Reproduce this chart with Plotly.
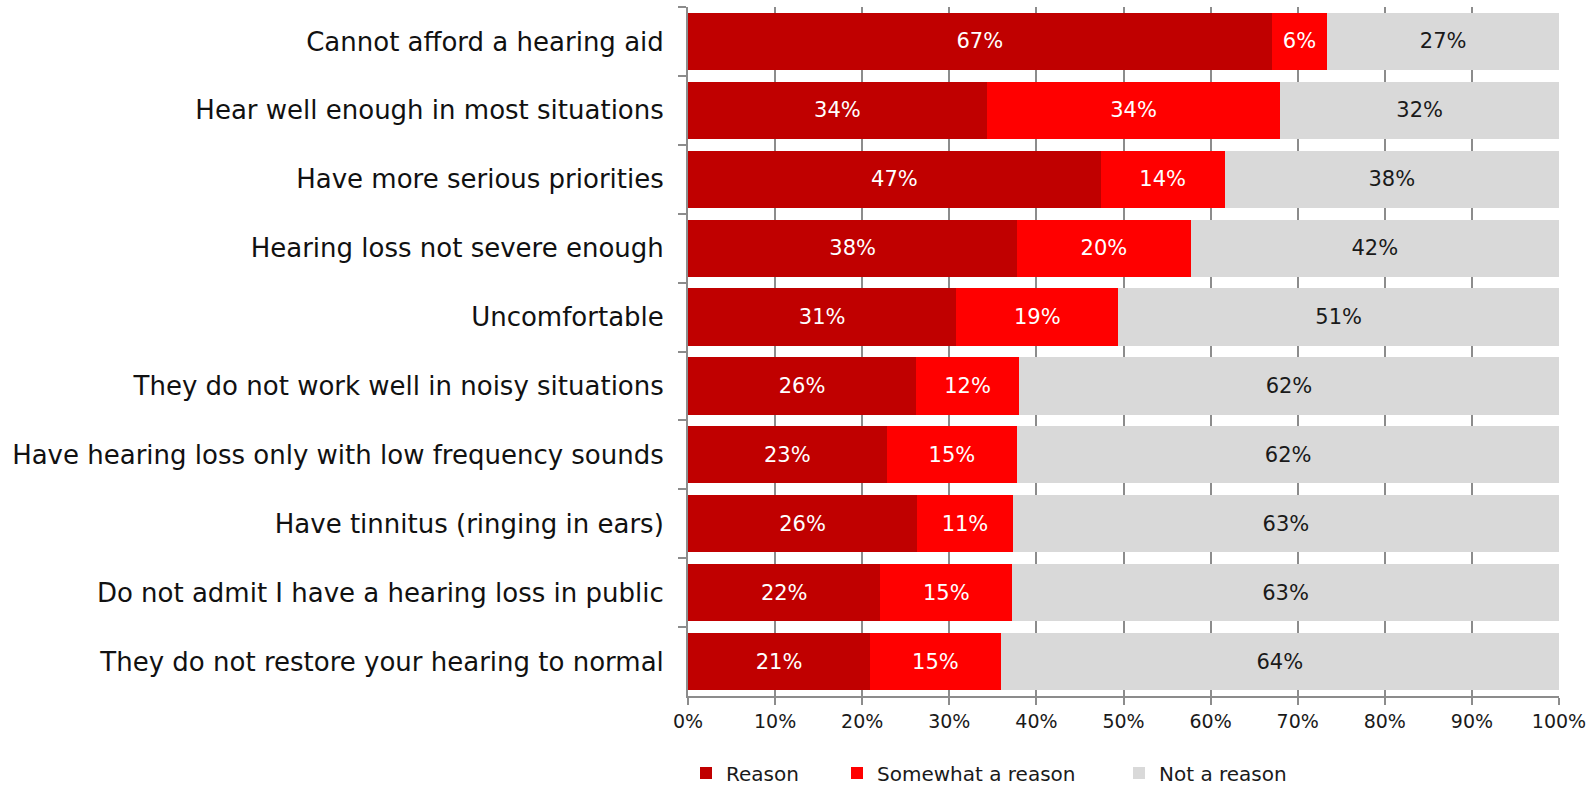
import plotly.graph_objects as go

# Survey: reasons for not using a hearing aid (share of respondents, %)
categories = [
    "Cannot afford a hearing aid",
    "Hear well enough in most situations",
    "Have more serious priorities",
    "Hearing loss not severe enough",
    "Uncomfortable",
    "They do not work well in noisy situations",
    "Have hearing loss only with low frequency sounds",
    "Have tinnitus (ringing in ears)",
    "Do not admit I have a hearing loss in public",
    "They do not restore your hearing to normal",
]
reason = [67.0, 34.3, 47.4, 37.8, 30.8, 26.2, 22.8, 26.3, 22.1, 20.9]
somewhat = [6.4, 33.7, 14.2, 19.9, 18.6, 11.8, 15.0, 11.0, 15.1, 15.0]
not_reason = [26.6, 32.0, 38.4, 42.3, 50.6, 62.0, 62.2, 62.7, 62.8, 64.1]

series_names = ["Reason", "Somewhat a reason", "Not a reason"]
x_ticks = [0, 10, 20, 30, 40, 50, 60, 70, 80, 90, 100]
x_tick_labels = ["0%", "10%", "20%", "30%", "40%", "50%", "60%", "70%", "80%", "90%", "100%"]

FONT = "DejaVu Sans"
colors = ["#C00000", "#FF0000", "#D9D9D9"]
text_colors = ["#FFFFFF", "#FFFFFF", "#1A1A1A"]
legend_ids = ["legend", "legend2", "legend3"]

fig = go.Figure()
for vals, name, col, tcol, lg in zip(
    [reason, somewhat, not_reason], series_names, colors, text_colors, legend_ids
):
    fig.add_trace(
        go.Bar(
            y=categories,
            x=vals,
            name=name,
            orientation="h",
            marker=dict(color=col, line=dict(width=0)),
            texttemplate="%{x:.0f}%",
            textposition="inside",
            insidetextanchor="middle",
            textangle=0,
            insidetextfont=dict(family=FONT, size=21, color=tcol),
            legend=lg,
        )
    )

W, H = 1592, 787
ml, mr, mt, mb = 688, 33, 7, 91
plot_w = W - ml - mr
plot_h = H - mt - mb

def px_to_paper_x(px):
    return (px - ml) / plot_w

# one legend per series so each entry can sit at its own position
legend_common = dict(
    orientation="h",
    yanchor="middle",
    y=-(773 - (H - mb)) / plot_h,
    xanchor="left",
    font=dict(family=FONT, size=20, color="#1A1A1A"),
    bgcolor="rgba(0,0,0,0)",
    borderwidth=0,
    itemwidth=30,
    tracegroupgap=0,
)
legend_x = [686, 837, 1119]

fig.update_layout(
    width=W,
    height=H,
    margin=dict(l=ml, r=mr, t=mt, b=mb, autoexpand=False),
    barmode="stack",
    bargap=0.17,
    plot_bgcolor="white",
    paper_bgcolor="white",
    uniformtext=dict(minsize=21, mode="show"),
    font=dict(family=FONT, color="#1A1A1A"),
    showlegend=True,
    legend=dict(legend_common, x=px_to_paper_x(legend_x[0])),
    legend2=dict(legend_common, x=px_to_paper_x(legend_x[1])),
    legend3=dict(legend_common, x=px_to_paper_x(legend_x[2])),
)

fig.update_xaxes(
    range=[0, 100],
    tickmode="array",
    tickvals=x_ticks,
    ticktext=x_tick_labels,
    showgrid=True,
    gridcolor="#8C8C8C",
    gridwidth=2,
    showline=True,
    linecolor="#8C8C8C",
    linewidth=2,
    ticks="outside",
    ticklen=7,
    tickwidth=2,
    tickcolor="#8C8C8C",
    tickfont=dict(family=FONT, size=19, color="#1A1A1A"),
    zeroline=False,
    fixedrange=True,
)
fig.update_yaxes(
    autorange="reversed",
    showgrid=False,
    showline=True,
    linecolor="#8C8C8C",
    linewidth=2,
    ticks="outside",
    tickson="boundaries",
    ticklen=8,
    tickwidth=2,
    tickcolor="#8C8C8C",
    tickfont=dict(family=FONT, size=26, color="#111111"),
    ticklabelstandoff=17,
    fixedrange=True,
)

fig.write_html("out.html", config=dict(displayModeBar=False))
